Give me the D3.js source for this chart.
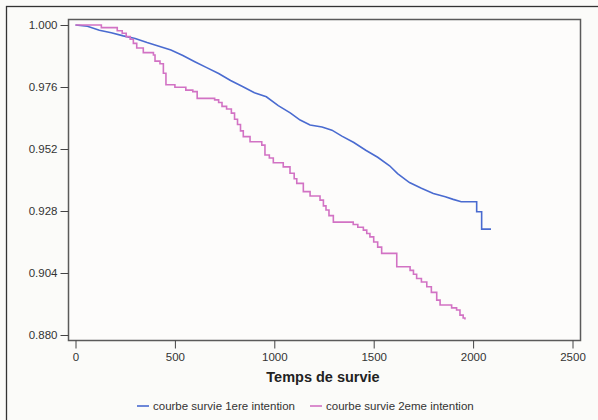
<!DOCTYPE html>
<html lang="fr">
  <head>
    <meta charset="utf-8">
    <title>Courbes de survie</title>
    <style>
      body { margin: 0; background: #fbfbf9; }
      text { font-family: "Liberation Sans", Arial, sans-serif; }
      .tick text { font-size: 11.5px; fill: #333; }
      .curve { fill: none; stroke-width: 1.6px; }
    </style>
  </head>
  <body>
    <svg id="chart" width="598" height="420"></svg>

    <script src="https://cdn.jsdelivr.net/npm/d3@7"></script>
    <script>
      // survival estimates (time, S(t))
      // 1ere intention: many tiny steps, drawn as a fine line; the tail steps are given explicitly
      var timeFirst = [0, 60, 120, 180, 240, 300, 360, 420, 480, 540, 600, 660, 720, 780, 840, 900, 960, 1020, 1080, 1130,
                       1180, 1240, 1290, 1340, 1400, 1460, 1520, 1580, 1620, 1680, 1740, 1800, 1860, 1900, 1940, 2018, 2018,
                       2043, 2043, 2090];
      var survFirst = [1.000, 0.9995, 0.998, 0.997, 0.9958, 0.9948, 0.9932, 0.9918, 0.9903, 0.9882, 0.9858, 0.9835, 0.9812, 0.9785,
                       0.9762, 0.9738, 0.9722, 0.9688, 0.9660, 0.9632, 0.9613, 0.9605, 0.9593, 0.9570, 0.9545, 0.9515, 0.9488,
                       0.9455, 0.9425, 0.9390, 0.9368, 0.9348, 0.9335, 0.9325, 0.9316, 0.9316, 0.9277, 0.9277, 0.9210, 0.9210];

      var timeSecond = [0, 130, 210, 235, 255, 275, 291, 308, 341, 392, 400, 425, 442, 455, 500, 555, 590, 612, 700, 720, 737, 760,
                        784, 800, 815, 830, 844, 878, 937, 953, 975, 995, 1045, 1079, 1100, 1113, 1146, 1180, 1230, 1247, 1260,
                        1275, 1297, 1397, 1420, 1448, 1465, 1481, 1500, 1520, 1540, 1616, 1683, 1700, 1716, 1740, 1767, 1790,
                        1817, 1834, 1892, 1917, 1934, 1950, 1959];
      var survSecond = [1.000, 0.9990, 0.9978, 0.9968, 0.9955, 0.9945, 0.9929, 0.9911, 0.9893, 0.9884, 0.9860, 0.9850, 0.9813,
                        0.9769, 0.9759, 0.9748, 0.9742, 0.9716, 0.9710, 0.9700, 0.9685, 0.9675, 0.9659, 0.9635, 0.9615, 0.9590,
                        0.9568, 0.9548, 0.9535, 0.9497, 0.9485, 0.9467, 0.9451, 0.9426, 0.9405, 0.9387, 0.9355, 0.9338, 0.9322,
                        0.9300, 0.9284, 0.9262, 0.9237, 0.9228, 0.9217, 0.9206, 0.9193, 0.9180, 0.9160, 0.9140, 0.9116, 0.9064,
                        0.9050, 0.9035, 0.9019, 0.9005, 0.8987, 0.8965, 0.8935, 0.8916, 0.8905, 0.8897, 0.8877, 0.8866, 0.8860];

      var seriesNames = ["courbe survie 1ere intention", "courbe survie 2eme intention"];
      var seriesColors = ["#4a6bd0", "#d272c4"];
      var xTicks = [0, 500, 1000, 1500, 2000, 2500];
      var yTicks = [0.880, 0.904, 0.928, 0.952, 0.976, 1.000];

      var svg = d3.select("#chart");

      // outer frame
      svg.append("rect")
          .attr("x", 6.5).attr("y", 6.5)
          .attr("width", 600).attr("height", 420)
          .attr("fill", "#fbfbf9")
          .attr("stroke", "#333").attr("stroke-width", 1.3);

      var box = {left: 68.5, top: 19.5, right: 580.5, bottom: 340.5};

      var x = d3.scaleLinear().domain([0, 2500]).range([75.5, 572.5]);
      var y = d3.scaleLinear().domain([0.880, 1.000]).range([335, 25]);

      svg.append("rect")
          .attr("x", box.left).attr("y", box.top)
          .attr("width", box.right - box.left).attr("height", box.bottom - box.top)
          .attr("fill", "#fdfcfb")
          .attr("stroke", "#5a5a5a").attr("stroke-width", 1.5);

      // x axis hangs under the box
      var xAxis = svg.append("g")
          .attr("transform", "translate(0," + box.bottom + ")")
          .call(d3.axisBottom(x).tickValues(xTicks).tickFormat(d3.format("d")).tickSize(8).tickPadding(4));
      xAxis.select(".domain").remove();
      xAxis.selectAll("line").attr("stroke", "#444");

      var yAxis = svg.append("g")
          .attr("transform", "translate(" + box.left + ",0)")
          .call(d3.axisLeft(y).tickValues(yTicks).tickFormat(d3.format(".3f")).tickSize(8).tickPadding(3));
      yAxis.select(".domain").remove();
      yAxis.selectAll("line").attr("stroke", "#444");

      var lineFine = d3.line()
          .x(function(d) { return x(d[0]); })
          .y(function(d) { return y(d[1]); });

      var lineStep = d3.line()
          .x(function(d) { return x(d[0]); })
          .y(function(d) { return y(d[1]); })
          .curve(d3.curveStepAfter);

      var curves = [d3.zip(timeFirst, survFirst), d3.zip(timeSecond, survSecond)];
      var lines = [lineFine, lineStep];

      curves.forEach(function(data, i) {
        svg.append("path")
            .datum(data)
            .attr("class", "curve")
            .attr("stroke", seriesColors[i])
            .attr("d", lines[i]);
      });

      svg.append("text")
          .attr("x", 323).attr("y", 382)
          .attr("text-anchor", "middle")
          .attr("font-size", "14.5px")
          .attr("font-weight", "bold")
          .attr("fill", "#222")
          .text("Temps de survie");

      // legend
      var legendX = [137, 310];
      seriesNames.forEach(function(name, i) {
        var g = svg.append("g").attr("transform", "translate(" + legendX[i] + ",406)");
        g.append("line")
            .attr("x1", 0).attr("x2", 12)
            .attr("stroke", seriesColors[i]).attr("stroke-width", 1.6);
        g.append("text")
            .attr("x", 16).attr("y", 4)
            .attr("font-size", "11.5px")
            .attr("fill", "#333")
            .text(name);
      });
    </script>
  </body>
</html>
